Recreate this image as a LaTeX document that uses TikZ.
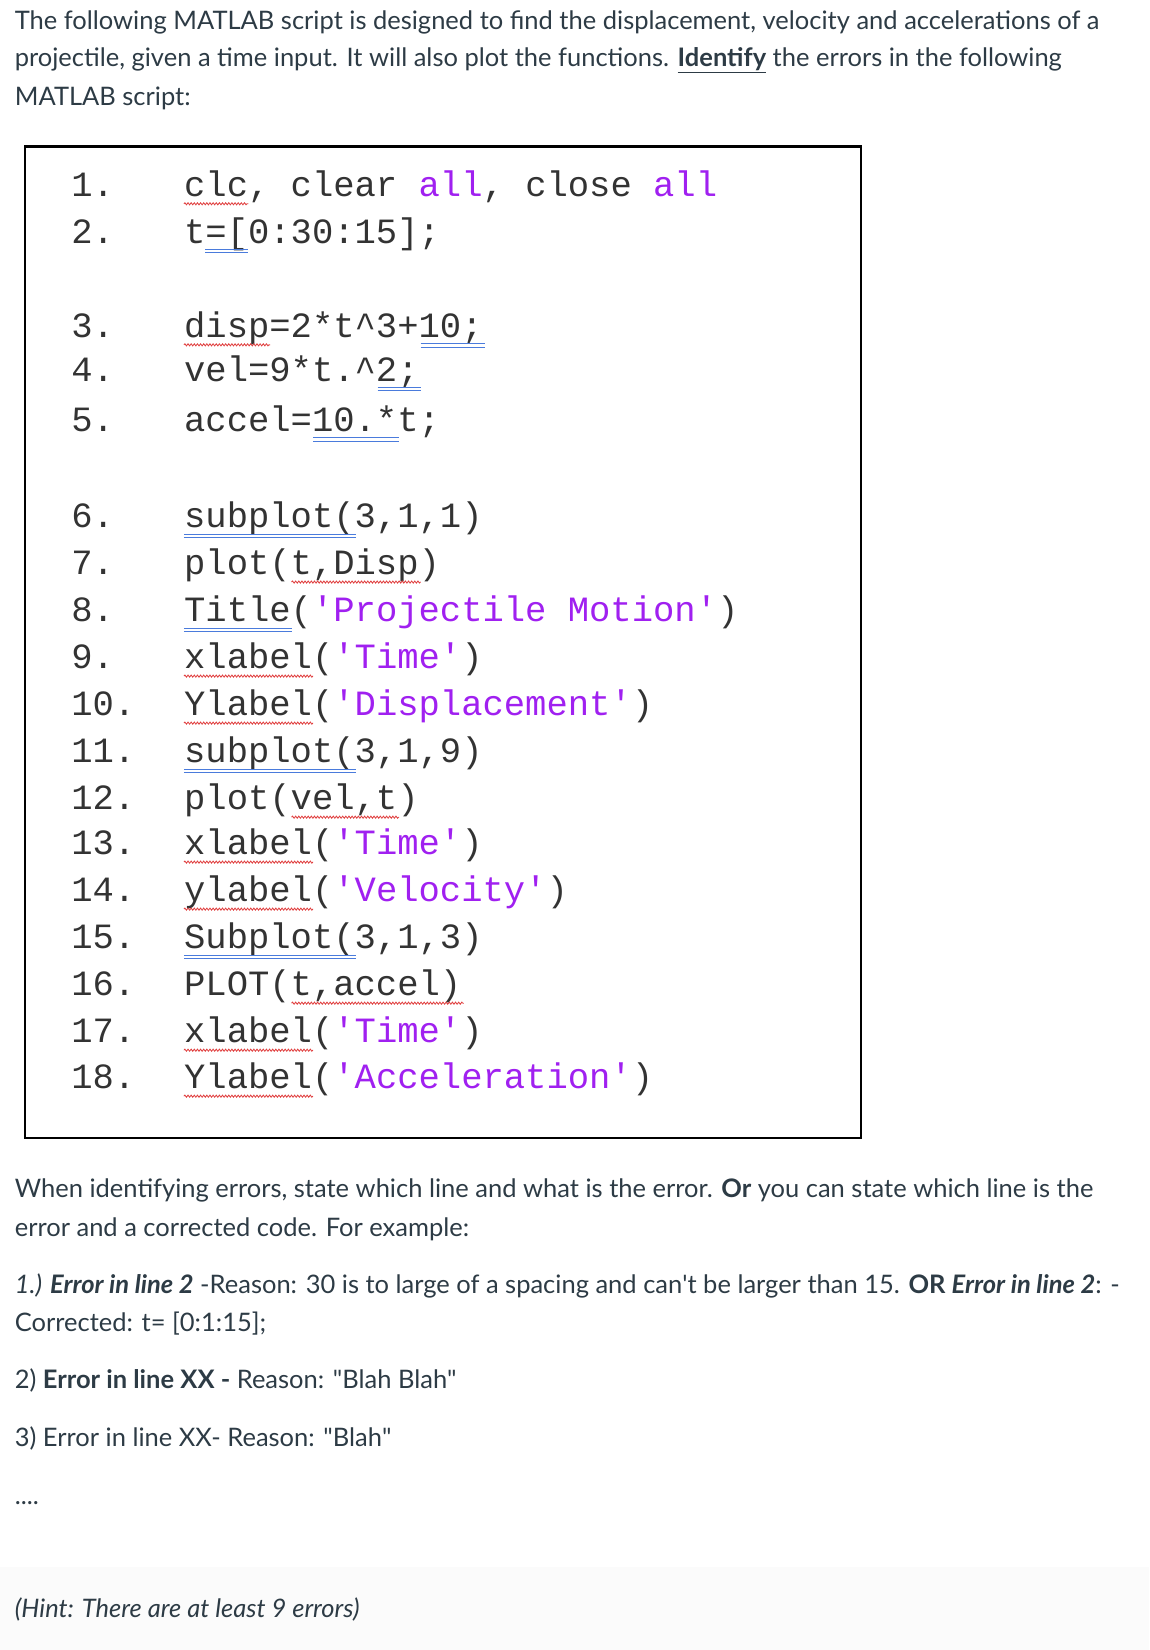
\documentclass[tikz,border=0pt]{standalone}
\usepackage{fontspec}
\setmainfont{Lato}
\newfontfamily\codefont{Liberation Mono}
\usetikzlibrary{decorations.pathmorphing}
\definecolor{txt}{HTML}{2D3B45}
\definecolor{str}{HTML}{A020F0}
\definecolor{sq}{HTML}{E04040}
\definecolor{bl}{HTML}{4A7BDC}
\begin{document}
\begin{tikzpicture}[x=1pt,y=-1pt,
  prose/.style={anchor=base west,inner sep=0pt,text=txt,font=\fontsize{24.4}{29}\selectfont},
  code/.style={anchor=base west,inner sep=0pt,text=black!80,font=\codefont\fontsize{34}{40}\selectfont},
  num/.style={anchor=base west,inner sep=0pt,text=black!80,font=\codefont\fontsize{34}{40}\selectfont}]
\useasboundingbox (0,0) rectangle (1100,1579);
\fill[black!1.5] (0,1500) rectangle (1100,1579);
\node[prose] (p1) at (14,28) {The following MATLAB script is designed to find the displacement, velocity and accelerations of a};
\node[prose] (p2) at (14,64) {projectile, given a time input. It will also plot the functions. \textbf{\underline{Identify}} the errors in the following};
\node[prose] (p3) at (14,101) {MATLAB script:};
\draw[line width=2.5pt] (24,140) rectangle (824,1089);
% code lines
\def\cx{176}\def\cw{20.6}
\foreach \n/\y in {1/188,2/233,3/323,4/365,5/413,6/505,7/550,8/595,9/640}
  \node[num] at (68,\y) {\n.};
\foreach \n/\y in {10/685,11/730,12/775,13/818,14/863,15/908,16/953,17/998,18/1042}
  \node[num] at (68,\y) {\n.};
\node[code] (c1) at (\cx,188) {clc, clear \textcolor{str}{all}, close \textcolor{str}{all}};
\node[code] (c2) at (\cx,233) {t=[0:30:15];};
\node[code] (c3) at (\cx,323) {disp=2*t\string^3+10;};
\node[code] (c4) at (\cx,365) {vel=9*t.\string^2;};
\node[code] (c5) at (\cx,413) {accel=10.*t;};
\node[code] (c6) at (\cx,505) {subplot(3,1,1)};
\node[code] (c7) at (\cx,550) {plot(t,Disp)};
\node[code] (c8) at (\cx,595) {Title(\textcolor{str}{'Projectile Motion'})};
\node[code] (c9) at (\cx,640) {xlabel(\textcolor{str}{'Time'})};
\node[code] (c10) at (\cx,685) {Ylabel(\textcolor{str}{'Displacement'})};
\node[code] (c11) at (\cx,730) {subplot(3,1,9)};
\node[code] (c12) at (\cx,775) {plot(vel,t)};
\node[code] (c13) at (\cx,818) {xlabel(\textcolor{str}{'Time'})};
\node[code] (c14) at (\cx,863) {ylabel(\textcolor{str}{'Velocity'})};
\node[code] (c15) at (\cx,908) {Subplot(3,1,3)};
\node[code] (c16) at (\cx,953) {PLOT(t,accel)};
\node[code] (c17) at (\cx,998) {xlabel(\textcolor{str}{'Time'})};
\node[code] (c18) at (\cx,1042) {Ylabel(\textcolor{str}{'Acceleration'})};
% underlines: red wavy and blue double
\tikzset{wavy/.style={sq,line width=0.8pt,decorate,decoration={snake,amplitude=1pt,segment length=3pt}},
  dbl/.style={bl,line width=0.8pt}}
\newcommand\wv[3]{\draw[wavy] ({\cx+#1*\cw},#3+7) -- ({\cx+#2*\cw},#3+7);}
\newcommand\db[3]{\draw[dbl] ({\cx+#1*\cw},#3+6) -- ({\cx+#2*\cw},#3+6); \draw[dbl] ({\cx+#1*\cw},#3+9) -- ({\cx+#2*\cw},#3+9);}
\wv{0}{3}{188}
\db{1}{3}{233}
\wv{0}{4}{323}
\db{11}{14}{323}
\db{9}{11}{365}
\db{6}{10}{413}
\db{0}{8}{505}
\wv{5}{11}{550}
\db{0}{5}{595}
\wv{0}{6}{640}
\wv{0}{6}{685}
\db{0}{8}{730}
\wv{5}{10}{775}
\wv{0}{6}{818}
\wv{0}{6}{863}
\db{0}{8}{908}
\wv{5}{13}{953}
\wv{0}{6}{998}
\wv{0}{6}{1042}
% bottom prose
\node[prose] (q1) at (14,1146) {When identifying errors, state which line and what is the error. \textbf{Or} you can state which line is the};
\node[prose] (q2) at (14,1183) {error and a corrected code. For example:};
\node[prose] (q3) at (14,1238) {\textit{1.) \textbf{Error in line 2}} -Reason: 30 is to large of a spacing and can\textquotesingle t be larger than 15. \textbf{OR \textit{Error in line 2}}: -};
\node[prose] (q4) at (14,1274) {Corrected: t= [0:1:15];};
\node[prose] (q5) at (14,1329) {2) \textbf{Error in line XX -} Reason: \textquotedbl Blah Blah\textquotedbl};
\node[prose] (q6) at (14,1384) {3) Error in line XX- Reason: \textquotedbl Blah\textquotedbl};
\node[prose] (q7) at (14,1440) {....};
\node[prose] (q8) at (14,1548) {\textit{(Hint: There are at least 9 errors)}};
\end{tikzpicture}
\end{document}
